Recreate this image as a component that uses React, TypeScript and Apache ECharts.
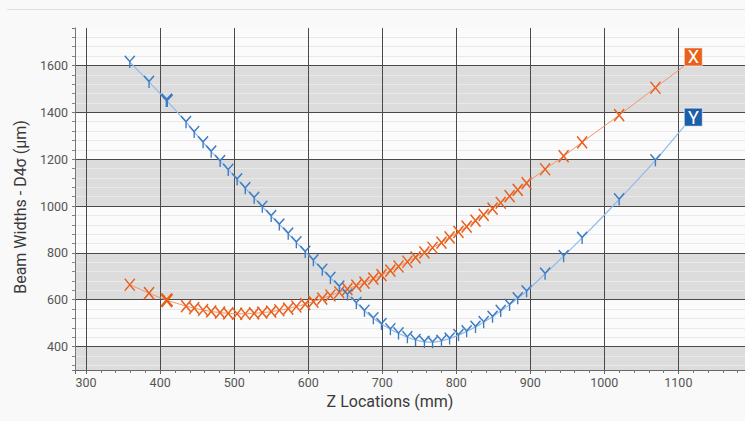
import { useEffect, useRef } from "react";
import * as echarts from "echarts";

// Z locations (mm) of the measurement points
const zLocations = [
  359, 385, 409,
  435, 446, 458, 469, 481, 492, 504, 515, 527, 538,
  550, 561, 573, 584, 596, 607, 619, 630, 642, 653,
  665, 676, 688, 699, 711, 722, 734, 745, 757, 768,
  780, 791, 803, 814, 826, 837, 849, 860, 872, 883,
  895,
  920, 945, 970, 1020, 1069, 1108,
];

// Beam width D4σ (µm) – X direction (orange)
const widthX = [
  664, 628, 598,
  573, 564, 556, 550, 545, 542, 540, 540, 542, 545,
  549, 555, 562, 571, 581, 592, 605, 618, 632, 645,
  660, 673, 690, 705, 724, 742, 762, 781, 802, 822,
  844, 866, 890, 912, 938, 962, 989, 1014, 1042, 1069,
  1098,
  1157, 1213, 1272, 1388, 1505, 1598,
];

// Beam width D4σ (µm) – Y direction (blue)
const widthY = [
  1615, 1530, 1450,
  1358, 1316, 1272, 1232, 1192, 1154, 1114, 1076, 1035, 997,
  957, 921, 882, 845, 804, 768, 728, 693, 656, 622,
  586, 553, 521, 496, 474, 456, 440, 428, 420, 418,
  424, 434, 449, 465, 484, 504, 527, 552, 578, 606,
  636,
  711, 786, 864, 1028, 1195, 1341,
];

const highlightIndex = 2;

const X_MARK = "path://M0,0L10,12M10,0L0,12";
const Y_MARK = "path://M0,0L5,6L10,0M5,6L5,13";

function buildData(values: number[], boxColor: string, letter: string) {
  return zLocations.map((z, i) => {
    const item: any = { value: [z, values[i]] };
    if (i === highlightIndex) {
      item.symbolSize = [11, 13];
      item.itemStyle = { borderWidth: 2.6 };
    }
    if (i === zLocations.length - 1) {
      item.symbol = "rect";
      item.symbolSize = 18;
      item.symbolOffset = [9, -9];
      item.itemStyle = {
        color: boxColor,
        borderColor: "rgba(255,255,255,0.55)",
        borderWidth: 1,
      };
      item.label = {
        show: true,
        position: "inside",
        formatter: letter,
        color: "#ffffff",
        fontSize: 18,
        fontFamily: "Roboto",
      };
    }
    return item;
  });
}

export default function App() {
  const ref = useRef<HTMLDivElement>(null);

  useEffect(() => {
    if (!ref.current) return;
    const chart = echarts.init(ref.current, undefined, { renderer: "svg" });
    const font = "Roboto";
    chart.setOption({
      animation: false,
      backgroundColor: "#f9f9f9",
      textStyle: { fontFamily: font },
      grid: {
        left: 75,
        right: 0,
        top: 28,
        bottom: 51,
        containLabel: false,
        outerBoundsMode: "none",
      },
      graphic: [
        {
          type: "line",
          shape: { x1: 7, y1: 9.5, x2: 745, y2: 9.5 },
          style: { stroke: "#e2e2e2", lineWidth: 1 },
          silent: true,
        },
      ],
      xAxis: {
        type: "value",
        min: 285,
        max: 1190,
        splitNumber: 9,
        z: 1,
        name: "Z Locations (mm)",
        nameLocation: "middle",
        nameGap: 21,
        nameTextStyle: {
          fontSize: 16,
          color: "#3a3a3a",
          fontFamily: font,
          padding: [0, 40, 0, 0],
        },
        axisLine: { show: true, onZero: false, lineStyle: { color: "#666", width: 1 } },
        axisTick: { show: true, length: 4, lineStyle: { color: "#666" } },
        minorTick: { show: true, splitNumber: 5, length: 3, lineStyle: { color: "#777" } },
        axisLabel: {
          color: "#555",
          fontSize: 12.5,
          margin: 6,
          fontFamily: font,
          showMinLabel: false,
          showMaxLabel: false,
          formatter: (v: number) => (v % 100 === 0 ? String(v) : ""),
        },
        splitLine: {
          show: true,
          showMinLine: false,
          showMaxLine: false,
          lineStyle: { color: "#4a4a4a", width: 1 },
        },
      },
      yAxis: {
        type: "value",
        min: 300,
        max: 1760,
        splitNumber: 7,
        z: 0,
        name: "Beam Widths - D4σ (µm)",
        nameLocation: "middle",
        nameGap: 39,
        nameRotate: 90,
        nameTextStyle: {
          fontSize: 16,
          color: "#3a3a3a",
          fontFamily: font,
          padding: [0, 16, 0, 0],
        },
        axisLine: { show: true, onZero: false, lineStyle: { color: "#777", width: 1 } },
        axisTick: { show: true, length: 3, lineStyle: { color: "#777" } },
        minorTick: { show: true, splitNumber: 5, length: 3, lineStyle: { color: "#888" } },
        axisLabel: {
          color: "#555",
          fontSize: 12.5,
          margin: 7,
          fontFamily: font,
          showMinLabel: false,
          showMaxLabel: false,
          formatter: (v: number) => (v % 200 === 0 ? String(v) : ""),
        },
        splitLine: {
          show: true,
          showMinLine: false,
          showMaxLine: false,
          lineStyle: { color: "#4a4a4a", width: 1 },
        },
        minorSplitLine: { show: true, lineStyle: { color: "#e9e9e9", width: 1 } },
        splitArea: { show: true, areaStyle: { color: ["#dcdcdc", "#fbfbfb"] } },
      },
      series: [
        {
          type: "line",
          name: "X",
          data: buildData(widthX, "#E8601C", "X"),
          symbol: X_MARK,
          symbolSize: [10, 12],
          showSymbol: true,
          smooth: 0.2,
          z: 3,
          lineStyle: { color: "#F3906A", width: 1 },
          itemStyle: { color: "transparent", borderColor: "#E8601C", borderWidth: 1.5 },
          emphasis: { disabled: true },
        },
        {
          type: "line",
          name: "Y",
          data: buildData(widthY, "#1D5EA8", "Y"),
          symbol: Y_MARK,
          symbolSize: [10, 12],
          showSymbol: true,
          smooth: 0.2,
          z: 3,
          lineStyle: { color: "#92BAEA", width: 1.2 },
          itemStyle: { color: "transparent", borderColor: "#3C7CC4", borderWidth: 1.5 },
          emphasis: { disabled: true },
        },
      ],
    });
    return () => chart.dispose();
  }, []);

  return (
    <div
      style={{
        position: "fixed",
        left: 0,
        top: 0,
        width: 745,
        height: 421,
        background: "#f9f9f9",
      }}
    >
      <div ref={ref} style={{ width: 745, height: 421 }} />
    </div>
  );
}
